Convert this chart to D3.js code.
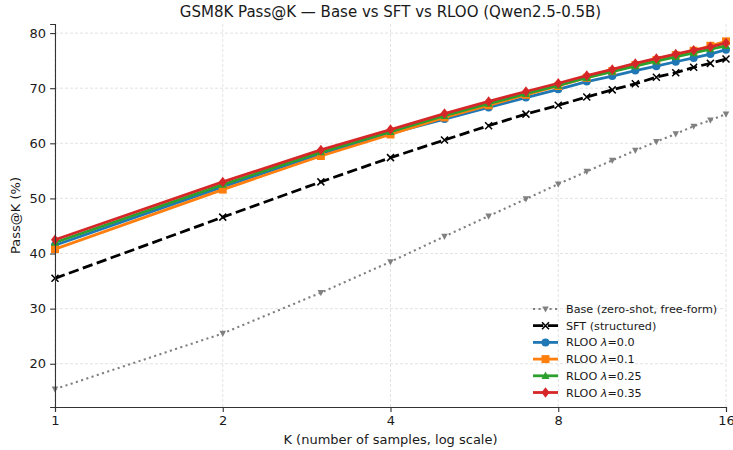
<!DOCTYPE html>
<html>
<head>
<meta charset="utf-8">
<script src="https://cdn.jsdelivr.net/npm/d3@7"></script>
<style>
  body { margin: 0; background: #fff; }
  svg { font-family: "DejaVu Sans", sans-serif; }
</style>
</head>
<body>
<svg id="chart"></svg>
<script>
var kValues = [1, 2, 3, 4, 5, 6, 7, 8, 9, 10, 11, 12, 13, 14, 15, 16];
var xTicks = [1, 2, 4, 8, 16];
var yTicks = [20, 30, 40, 50, 60, 70, 80];

var baseVals  = [15.4, 25.5, 32.9, 38.5, 43.1, 46.8, 49.9, 52.6, 54.9, 56.9, 58.7, 60.3, 61.7, 63.1, 64.2, 65.3];
var sftVals   = [35.5, 46.6, 53.0, 57.4, 60.6, 63.2, 65.3, 66.9, 68.4, 69.7, 70.8, 72.0, 72.8, 73.8, 74.5, 75.3];
var rloo00    = [41.5, 52.1, 58.1, 61.8, 64.4, 66.5, 68.3, 69.8, 71.2, 72.2, 73.2, 74.0, 74.8, 75.5, 76.2, 77.0];
var rloo01    = [40.8, 51.6, 57.7, 61.6, 64.7, 66.9, 68.8, 70.4, 71.9, 73.1, 74.2, 75.1, 76.0, 76.8, 77.7, 78.5];
var rloo025   = [42.0, 52.5, 58.4, 62.1, 65.0, 67.2, 69.0, 70.5, 71.9, 73.0, 74.0, 74.9, 75.7, 76.4, 77.1, 77.7];
var rloo035   = [42.5, 53.0, 58.8, 62.5, 65.4, 67.6, 69.4, 70.9, 72.3, 73.4, 74.5, 75.4, 76.2, 76.9, 77.5, 78.2];

var series = [
  { name: "Base (zero-shot, free-form)", values: baseVals, color: "#808080", width: 2.1, dash: "2.1,3.4", marker: "tridown", size: 6.5 },
  { name: "SFT (structured)", values: sftVals, color: "#000000", width: 2.8, dash: "10.3,4.5", marker: "x", size: 7 },
  { name: "RLOO \u03bb=0.0", values: rloo00, color: "#1f77b4", width: 2.8, dash: null, marker: "circle", size: 8 },
  { name: "RLOO \u03bb=0.1", values: rloo01, color: "#ff7f0e", width: 2.8, dash: null, marker: "square", size: 8 },
  { name: "RLOO \u03bb=0.25", values: rloo025, color: "#2ca02c", width: 2.8, dash: null, marker: "triup", size: 8 },
  { name: "RLOO \u03bb=0.35", values: rloo035, color: "#d62728", width: 2.8, dash: null, marker: "diamond", size: 10 }
];

var width = 733, height = 450;
var margin = { top: 24, right: 7, bottom: 43, left: 55 };

var svg = d3.select("#chart").attr("width", width).attr("height", height);

var x = d3.scaleLog().base(2).domain([1, 16]).range([margin.left, width - margin.right]);
var y = d3.scaleLinear().domain([12.15, 81.65]).range([height - margin.bottom, margin.top]);

// grid
svg.append("g").selectAll("line").data(yTicks).join("line")
  .attr("x1", margin.left).attr("x2", width - margin.right)
  .attr("y1", function (d) { return y(d); }).attr("y2", function (d) { return y(d); })
  .attr("stroke", "#dcdcdc").attr("stroke-width", 0.8).attr("stroke-dasharray", "3,2");
svg.append("g").selectAll("line").data(xTicks).join("line")
  .attr("x1", function (d) { return x(d); }).attr("x2", function (d) { return x(d); })
  .attr("y1", margin.top).attr("y2", height - margin.bottom)
  .attr("stroke", "#dcdcdc").attr("stroke-width", 0.8).attr("stroke-dasharray", "3,2");

// markers
function markerPath(type, s) {
  var h = s / 2;
  if (type === "square") return "M" + (-h) + "," + (-h) + "h" + s + "v" + s + "h" + (-s) + "Z";
  if (type === "triup") return "M0," + (-h * 1.1) + "L" + h + "," + (h * 0.8) + "L" + (-h) + "," + (h * 0.8) + "Z";
  if (type === "tridown") return "M0," + (h * 1.1) + "L" + h + "," + (-h * 0.8) + "L" + (-h) + "," + (-h * 0.8) + "Z";
  if (type === "diamond") return "M0," + (-h * 1.05) + "L" + (h * 0.8) + ",0L0," + (h * 1.05) + "L" + (-h * 0.8) + ",0Z";
  if (type === "x") return "M" + (-h) + "," + (-h) + "L" + h + "," + h + "M" + (-h) + "," + h + "L" + h + "," + (-h);
  return null;
}

function drawMarker(g, s, cx, cy) {
  if (s.marker === "circle") {
    g.append("circle").attr("cx", cx).attr("cy", cy).attr("r", s.size / 2).attr("fill", s.color);
  } else if (s.marker === "x") {
    g.append("path").attr("d", markerPath("x", s.size)).attr("transform", "translate(" + cx + "," + cy + ")")
      .attr("stroke", s.color).attr("stroke-width", 1.5).attr("fill", "none");
  } else {
    g.append("path").attr("d", markerPath(s.marker, s.size)).attr("transform", "translate(" + cx + "," + cy + ")")
      .attr("fill", s.color);
  }
}

var line = d3.line()
  .x(function (d, i) { return x(kValues[i]); })
  .y(function (d) { return y(d); });

var plot = svg.append("g");
series.forEach(function (s) {
  var g = plot.append("g");
  g.append("path").datum(s.values)
    .attr("d", line)
    .attr("fill", "none")
    .attr("stroke", s.color)
    .attr("stroke-width", s.width)
    .attr("stroke-dasharray", s.dash)
    .attr("stroke-linejoin", "round");
  s.values.forEach(function (v, i) {
    drawMarker(g, s, x(kValues[i]), y(v));
  });
});

// axes
var xAxis = svg.append("g").attr("transform", "translate(0," + (height - margin.bottom) + ")")
  .call(d3.axisBottom(x).tickValues(xTicks).tickFormat(d3.format("d")).tickSizeOuter(0).tickSize(4.9).tickPadding(4));
var yAxis = svg.append("g").attr("transform", "translate(" + margin.left + ",0)")
  .call(d3.axisLeft(y).tickValues(yTicks).tickSizeOuter(0).tickSize(4.9).tickPadding(4));
[xAxis, yAxis].forEach(function (a) {
  a.select(".domain").attr("stroke", "#333").attr("stroke-width", 1.1);
  a.selectAll(".tick line").attr("stroke", "#333").attr("stroke-width", 1.1);
  a.selectAll(".tick text").attr("fill", "#1a1a1a").style("font-size", "13px").style("font-family", "DejaVu Sans");
});

// titles
svg.append("text").attr("x", (margin.left + width - margin.right) / 2).attr("y", 17)
  .attr("text-anchor", "middle").style("font-size", "15px").attr("fill", "#1a1a1a")
  .text("GSM8K Pass@K \u2014 Base vs SFT vs RLOO (Qwen2.5-0.5B)");
svg.append("text").attr("x", (margin.left + width - margin.right) / 2).attr("y", 444)
  .attr("text-anchor", "middle").style("font-size", "13px").attr("fill", "#1a1a1a")
  .text("K (number of samples, log scale)");
svg.append("text").attr("transform", "translate(20," + ((margin.top + height - margin.bottom) / 2) + ") rotate(-90)")
  .attr("text-anchor", "middle").style("font-size", "13px").attr("fill", "#1a1a1a")
  .text("Pass@K (%)");

// legend
var legend = svg.append("g").attr("transform", "translate(533,309)");
series.forEach(function (s, i) {
  var g = legend.append("g").attr("transform", "translate(0," + (i * 16.7) + ")");
  g.append("line").attr("x1", 0).attr("x2", 25).attr("y1", 0).attr("y2", 0)
    .attr("stroke", s.color).attr("stroke-width", s.width).attr("stroke-dasharray", s.dash);
  drawMarker(g, s, 12.5, 0);
  var t = g.append("text").attr("x", 33).attr("y", 4).style("font-size", "11.2px").attr("fill", "#1a1a1a");
  var parts = s.name.split("\u03bb");
  t.append("tspan").text(parts[0]);
  if (parts.length > 1) {
    t.append("tspan").style("font-style", "italic").text("\u03bb");
    t.append("tspan").text(parts[1]);
  }
});
</script>
</body>
</html>
